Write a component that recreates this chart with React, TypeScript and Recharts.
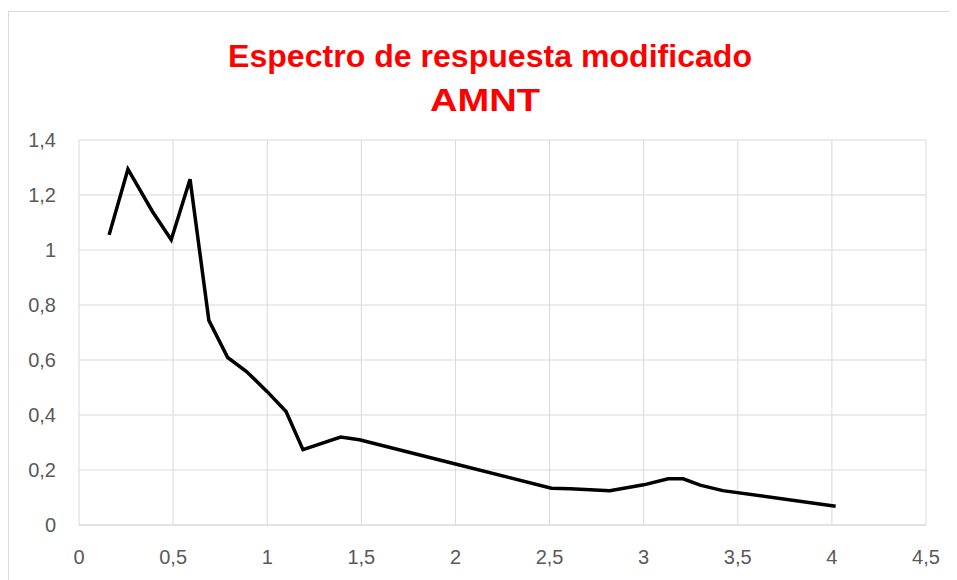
import { LineChart, Line, XAxis, YAxis, CartesianGrid } from "recharts";

// Periodo (s) y aceleración espectral
const periods = [0.16, 0.26, 0.39, 0.49, 0.59, 0.69, 0.79, 0.89, 1.0, 1.1, 1.19, 1.39, 1.49, 2.0, 2.51, 2.61, 2.82, 3.0, 3.13, 3.21, 3.3, 3.42, 4.02];
const accel   = [1.055, 1.294, 1.14, 1.037, 1.257, 0.744, 0.609, 0.558, 0.485, 0.413, 0.274, 0.32, 0.31, 0.222, 0.134, 0.132, 0.125, 0.146, 0.168, 0.168, 0.145, 0.125, 0.068];

const xTicks = [0, 0.5, 1, 1.5, 2, 2.5, 3, 3.5, 4, 4.5];
const yTicks = [0, 0.2, 0.4, 0.6, 0.8, 1, 1.2, 1.4];

const data = periods.map((t, i) => ({ t, sa: accel[i] }));

const GRID = "#d9d9d9";
const TICK = { fill: "#595959", fontSize: 20, fontFamily: "Liberation Sans, Arial, sans-serif" };
const comma = (v: number) => String(v).replace(".", ",");

export default function App() {
  return (
    <div style={{ position: "relative", width: 949, height: 572 }}>
      <div
        style={{
          position: "absolute", left: 0, top: 3, width: 960, height: 600,
          borderTop: `1px solid ${GRID}`, borderLeft: `1px solid ${GRID}`,
        }}
      />
      <svg width={949} height={130} style={{ position: "absolute", left: 0, top: 0 }}>
        <text x={482} y={59} textAnchor="middle" fill="#ff0000" fontWeight="bold" fontSize={31}
          fontFamily="Liberation Sans, Arial, sans-serif" textLength={524} lengthAdjust="spacingAndGlyphs">
          Espectro de respuesta modificado
        </text>
        <text x={477} y={103} textAnchor="middle" fill="#ff0000" fontWeight="bold" fontSize={31}
          fontFamily="Liberation Sans, Arial, sans-serif" textLength={110} lengthAdjust="spacingAndGlyphs">
          AMNT
        </text>
      </svg>
      <div style={{ position: "absolute", left: 0, top: 0 }}>
        <LineChart width={949} height={572} data={data} margin={{ top: 132, right: 31, left: 11, bottom: 15 }}>
          <CartesianGrid stroke={GRID} strokeWidth={1} />
          <XAxis
            type="number" dataKey="t" domain={[0, 4.5]} ticks={xTicks} interval={0}
            tickFormatter={comma} tick={TICK} tickLine={false} tickSize={0} tickMargin={25}
            axisLine={{ stroke: GRID }} height={40}
          />
          <YAxis
            type="number" domain={[0, 1.4]} ticks={yTicks} interval={0}
            tickFormatter={comma} tick={TICK} tickLine={false} tickSize={0} tickMargin={23}
            axisLine={false} width={60}
          />
          <Line type="linear" dataKey="sa" stroke="#000" strokeWidth={3.5} dot={false} isAnimationActive={false} />
        </LineChart>
      </div>
    </div>
  );
}
